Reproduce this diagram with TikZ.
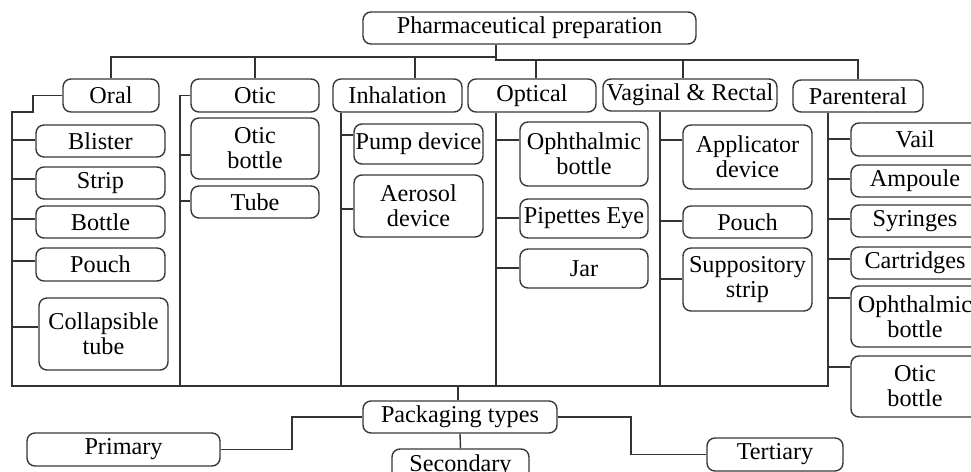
\documentclass[tikz,border=0pt]{standalone}
\usepackage{fontspec}
\setmainfont{Liberation Serif}
\tikzset{
  bx/.style={draw=black!78, line width=0.7pt, rounded corners=4pt, inner sep=0pt, align=center,
    font=\fontsize{12.1}{12.5}\selectfont, text=black},
  ln/.style={draw=black!80, line width=0.7pt},
}
\newcommand\bx[6]{\node[bx, minimum width={(#4-#2)*0.5pt}, minimum height={(#5-#3)*0.5pt}] (#1) at ({(#2+#4)/2},{(#3+#5)/2}) {#6};}
\newcommand\br[3]{\draw[ln] (#2,#3) -- (#1.west |- 0,#3);}
\begin{document}
\begin{tikzpicture}[x=0.5pt, y=-0.5pt]
\useasboundingbox (0,0) rectangle (971,472);
\clip (0,0) rectangle (971,472);
% top
\bx{pp}{363}{12}{696}{44}{Pharmaceutical preparation}
\bx{oral}{63}{79}{159}{112}{Oral}
\bx{otic}{191}{79}{319}{112}{Otic}
\bx{inh}{333}{79}{462}{112}{Inhalation}
\bx{opt}{468}{79}{596}{112}{Optical}
\bx{vag}{603}{79}{777}{111}{Vaginal \& Rectal}
\bx{par}{793}{80}{923}{112}{Parenteral}
% oral
\bx{blis}{36}{125}{165}{157}{Blister}
\bx{strip}{36}{167}{165}{199}{Strip}
\bx{bott}{36}{206}{165}{238}{Bottle}
\bx{pouchA}{36}{248}{165}{281}{Pouch}
\bx{coll}{39}{298}{168}{370}{Collapsible\\tube}
% otic
\bx{oticb}{191}{118}{319}{179}{Otic\\bottle}
\bx{tube}{191}{186}{319}{218}{Tube}
% inhalation
\bx{pump}{354}{124}{483}{164}{Pump device}
\bx{aero}{354}{175}{483}{237}{Aerosol\\device}
% optical
\bx{ophA}{520}{122}{648}{186}{Ophthalmic\\bottle}
\bx{pip}{520}{199}{648}{238}{Pipettes Eye}
\bx{jar}{520}{249}{648}{288}{Jar}
% vaginal
\bx{appl}{683}{125}{812}{189}{Applicator\\device}
\bx{pouchB}{683}{206}{812}{238}{Pouch}
\bx{supp}{683}{248}{812}{311}{Suppository\\strip}
% parenteral
\bx{vail}{851}{123}{979}{156}{Vail}
\bx{amp}{851}{165}{979}{197}{Ampoule}
\bx{syr}{851}{205}{979}{237}{Syringes}
\bx{cart}{851}{247}{979}{279}{Cartridges}
\bx{ophB}{851}{286}{979}{347}{Ophthalmic\\bottle}
\bx{oticB}{851}{356}{979}{417}{Otic\\bottle}
% bottom
\bx{pack}{363}{401}{557}{433}{Packaging types}
\bx{prim}{27}{433}{220}{466}{Primary}
\bx{sec}{392}{449}{529}{482}{Secondary}
\bx{tert}{707}{438}{843}{471}{Tertiary}
% top bus
\draw[ln] (pp.south -| 496,0) -- (496,57);
\draw[ln] (oral.north) -- (oral.north |- 0,57) -- (496,57) -- (496,60) -- (par.north |- 0,60) -- (par.north);
\draw[ln] (otic.north |- 0,57) -- (otic.north);
\draw[ln] (415,57) -- (inh.north -| 415,0);
\draw[ln] (536,60) -- (opt.north -| 536,0);
\draw[ln] (683,60) -- (vag.north -| 683,0);
% frame
\draw[ln] (oral.west) -- (oral.west -| 33,0) -- (33,112) -- (12,112) -- (12,386) -- (828,386) -- (par.south -| 828,0);
\draw[ln] (otic.west) -- (otic.west -| 180,0) -- (180,386);
\draw[ln] (inh.south -| 341,0) -- (341,386);
\draw[ln] (opt.south -| 496,0) -- (496,386);
\draw[ln] (vag.south -| 660,0) -- (660,386);
% branches
\br{blis}{12}{140}
\br{strip}{12}{179}
\br{bott}{12}{219}
\br{pouchA}{12}{261}
\br{coll}{12}{327}
\br{oticb}{180}{155}
\br{tube}{180}{201}
\br{pump}{341}{135}
\br{aero}{341}{209}
\br{ophA}{496}{140}
\br{pip}{496}{218}
\br{jar}{496}{268}
\br{appl}{660}{140}
\br{pouchB}{660}{221}
\br{supp}{660}{279}
\br{vail}{828}{139}
\br{amp}{828}{179}
\br{syr}{828}{219}
\br{cart}{828}{259}
\br{ophB}{828}{298}
\br{oticB}{828}{367}
% packaging
\draw[ln] (458,386) -- (pack.north -| 458,0);
\draw[ln] (prim.east) -- (prim.east -| 292,0) |- (pack.west);
\draw[ln] (pack.east) -- (pack.east -| 631,0) |- (tert.west);
\draw[ln] (pack.south) -- (sec.north);
\end{tikzpicture}
\end{document}
